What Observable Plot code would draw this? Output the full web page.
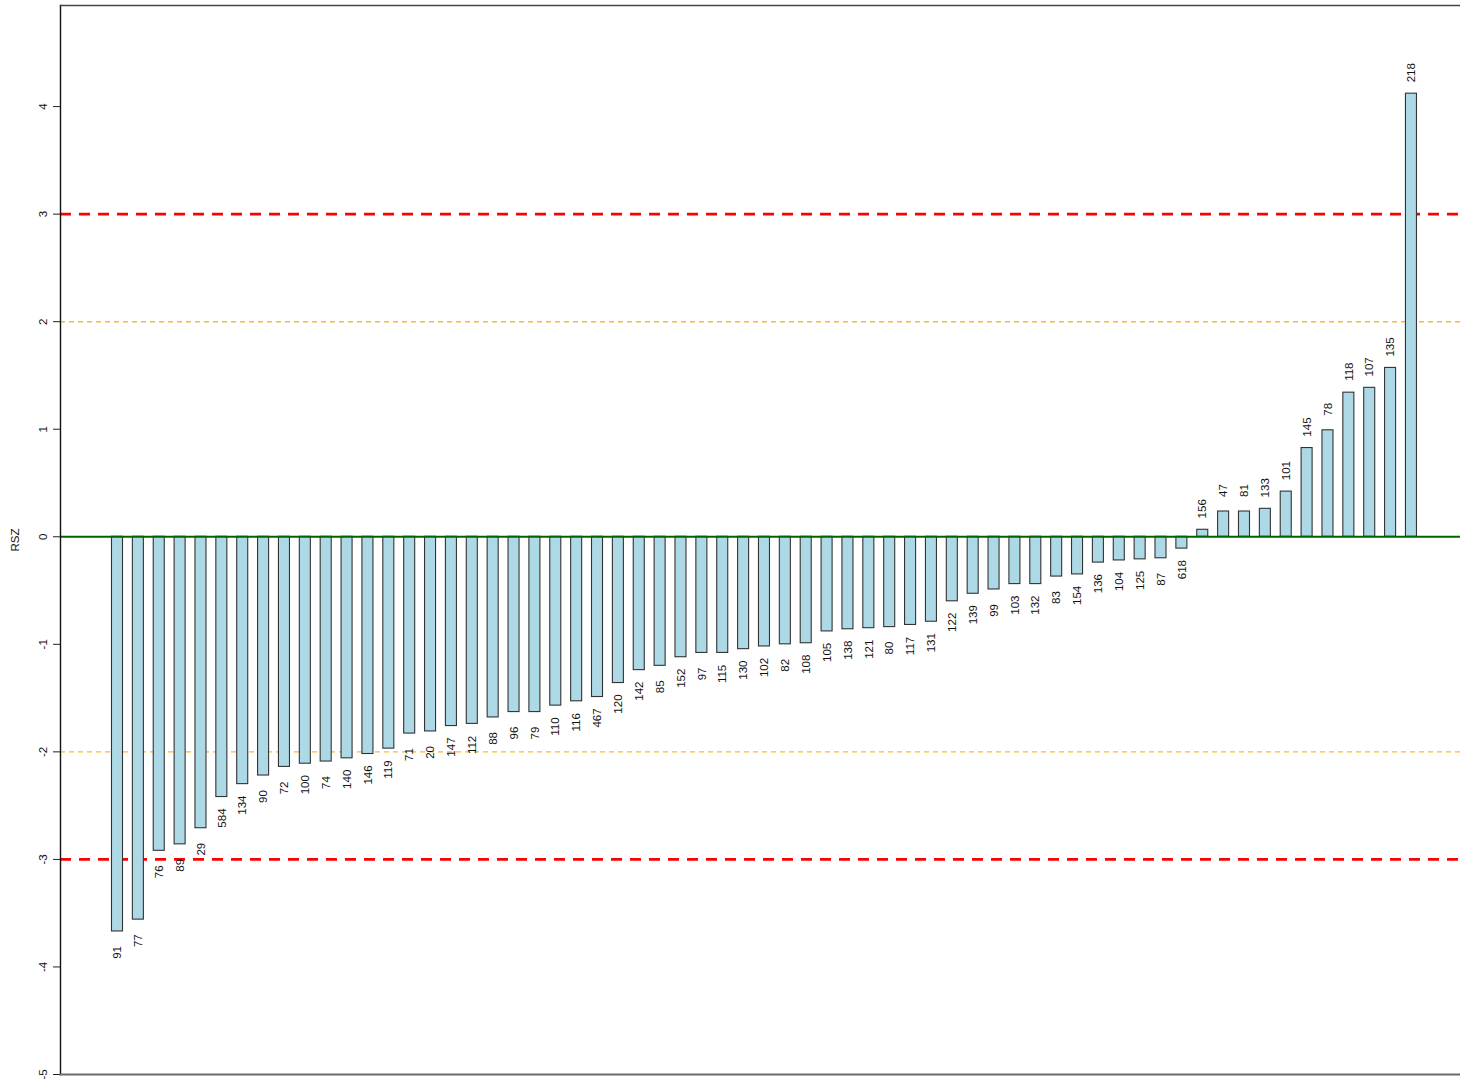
<!DOCTYPE html>
<html>
<head>
<meta charset="utf-8">
<script src="https://cdn.jsdelivr.net/npm/d3@7"></script>
<script src="https://cdn.jsdelivr.net/npm/@observablehq/plot@0.6"></script>
<style>
  html, body { margin: 0; padding: 0; background: #fff; }
  svg { display: block; }
</style>
</head>
<body>
<div id="chart"></div>
<script>
const ids = ["91","77","76","89","29","584","134","90","72","100","74","140","146","119","71","20","147","112","88","96","79","110","116","467","120","142","85","152","97","115","130","102","82","108","105","138","121","80","117","131","122","139","99","103","132","83","154","136","104","125","87","618","156","47","81","133","101","145","78","118","107","135","218"];
const rsz = [-3.67,-3.56,-2.92,-2.86,-2.71,-2.42,-2.30,-2.22,-2.14,-2.11,-2.09,-2.06,-2.02,-1.97,-1.83,-1.81,-1.76,-1.74,-1.68,-1.63,-1.63,-1.57,-1.53,-1.49,-1.36,-1.24,-1.20,-1.12,-1.08,-1.08,-1.045,-1.02,-1.00,-0.99,-0.88,-0.86,-0.85,-0.84,-0.82,-0.79,-0.60,-0.53,-0.49,-0.44,-0.44,-0.37,-0.35,-0.24,-0.22,-0.21,-0.20,-0.11,0.065,0.235,0.235,0.26,0.42,0.825,0.99,1.34,1.385,1.57,4.12];
const yTicks = [-5,-4,-3,-2,-1,0,1,2,3,4];
const redLines = [-3, 3];
const orangeLines = [-2, 2];

const data = ids.map((id, i) => ({id, i, v: rsz[i]}));
const font = "Liberation Sans, Arial, sans-serif";
const half = 0.264; // half bar width in bar-position units

const chart = Plot.plot({
  width: 1460,
  height: 1089,
  marginLeft: 60,
  marginRight: 0,
  marginTop: 5,
  marginBottom: 15,
  style: {fontFamily: font, fontSize: "11.5px", background: "#fff"},
  x: {type: "linear", domain: [-2.731, 64.35], axis: null},
  y: {domain: [-5, 4.94]},
  marks: [
    Plot.ruleY(orangeLines, {stroke: "#ffb733", strokeWidth: 1.4, strokeDasharray: "5,4"}),
    Plot.ruleY(redLines, {stroke: "#ff0000", strokeWidth: 2.6, strokeDasharray: "11,8"}),
    Plot.rectY(data, {x1: d => d.i - half, x2: d => d.i + half, y: "v", fill: "#add8e6", stroke: "#333", strokeWidth: 1.1}),
    Plot.ruleY([0], {stroke: "#006400", strokeWidth: 2.2}),
    Plot.text(data.filter(d => d.v < 0), {x: "i", y: "v", text: "id", rotate: -90, dy: 21, textAnchor: "middle", lineAnchor: "middle", fill: "#111"}),
    Plot.text(data.filter(d => d.v >= 0), {x: "i", y: "v", text: "id", rotate: -90, dy: -21, textAnchor: "middle", lineAnchor: "middle", fill: "#111"}),
    Plot.axisY(yTicks, {tickSize: 7, tickRotate: -90, tickPadding: 7, tickFormat: d => String(d), label: "RSZ", labelAnchor: "center", labelArrow: "none", labelOffset: 50, stroke: "#222", fill: "#111"}),
    Plot.frame({anchor: "left", stroke: "#111", strokeWidth: 1.4}),
    Plot.frame({anchor: "top", stroke: "#444", strokeWidth: 1.4}),
    Plot.frame({anchor: "bottom", stroke: "#6b6b6b", strokeWidth: 2})
  ]
});
document.getElementById("chart").appendChild(chart);
</script>
</body>
</html>
